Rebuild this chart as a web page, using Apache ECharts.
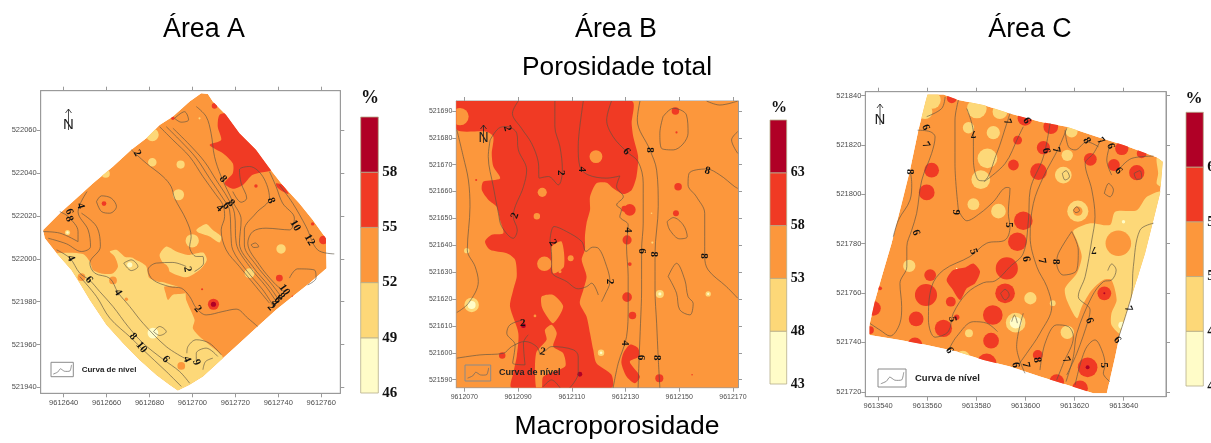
<!DOCTYPE html>
<html><head><meta charset="utf-8">
<style>html,body{margin:0;padding:0;background:#fff;overflow:hidden}#c{width:1211px;height:443px}canvas{filter:blur(0.4px)}</style>
<script src="https://cdn.jsdelivr.net/npm/echarts@6/dist/echarts.min.js"></script>
</head><body><div id="c"></div>
<script>
// ---------- value classes ----------
const PALE='#FFFCC8',YEL='#FDD878',ORG='#FC973C',RED='#F03A24',DARK='#B00026';
const bandColors=[PALE,YEL,ORG,RED,DARK];
const legendA=[46,49,52,55,58,61], legendB=[43,48,53,58,63,68], legendC=[43,48,53,58,63,68];
// ---------- axis tick labels ----------
const aXTicks=[9612640,9612660,9612680,9612700,9612720,9612740,9612760];
const aYTicks=[521940,521960,521980,522000,522020,522040,522060];
const bXTicks=[9612070,9612090,9612110,9612130,9612150,9612170];
const bYTicks=[521590,521600,521610,521620,521630,521640,521650,521660,521670,521680,521690];
const cXTicks=[9613540,9613560,9613580,9613600,9613620,9613640];
const cYTicks=[521720,521740,521760,521780,521800,521820,521840];
// map coordinates are stored as metres east / north of these origins
const aOrigin=[9612600,521900], bOrigin=[9612000,521500], cOrigin=[9613500,521700];

// ---------- ÁREA A ----------
const aField=[[104.1,177.3],[107.2,177],[109.5,173.4],[115.7,167.2],[121.9,158.6],[129.6,150.9],[135.9,142.3],[142,134.5],[149.8,126],[156,118.2],[162.2,109.6],[162.5,95.6],[154.5,88.6],[146.7,82.4],[139,76.2],[130.4,68.4],[121.9,60.6],[114.2,53.6],[104.9,45.1],[98.7,41.2],[93.2,38.5],[89.3,41.2],[83.2,45.8],[75.4,52.8],[67.7,60.6],[59.9,69.2],[52.2,80.8],[47.5,88.6],[43.6,94.8],[36.7,102.6],[31.2,109.6],[30.4,113.5],[38.2,121.3],[46,128.3],[53.7,135.3],[63,143.1],[71.5,150.9],[78.5,156.3],[84.7,162.5],[90.9,166.4],[98.7,173.4]];
const aYellowAreas=[
 [[36.7,102.6],[49,102.3],[52.2,98.7],[53.7,94.8],[58.4,93],[63,93.3],[65.3,96.4],[63.8,101],[61.5,103.4],[64.6,104.2],[68.4,101],[71.5,100.3],[75.4,98.7],[78.5,96.4],[80,91],[87.8,88.6],[96.3,85.5],[97.1,80.8],[101,71.5],[100.2,67.6],[103.3,63.7],[107.9,59.8],[114.2,53.6],[104,38],[40,38],[28,100]],
 [[84.7,101.8],[87.8,105.7],[92.5,103.4],[97.9,101.8],[104.9,102.9],[106.7,99.5],[103.3,94.8],[97.1,91.4],[89.4,94],[86.3,98]],
 [[101.8,113.5],[106.4,116.3],[109.5,113.5],[113.4,110.4],[112.6,107.6],[108,110.4],[103.3,112]]];
const aYellowSpots=[[99.9,108.4,3.1],[81.3,145.1,2],[94.5,144,1.9],[93.5,129.9,2.6],[141.3,104.6,2.2],[126.6,93.3,2.3],[81.3,157.9,3],[59.6,139.7,1.9],[41.8,112.3,1.2],[96.3,73,1.5],[70.8,97.2,3.5],[103.3,165.6,.5]];
const aPaleSpots=[[81.6,65.3,2.5],[70.8,97.2,1.2],[41.8,112.3,.6]];
const aOrangeAreas=[[[87,87.1],[96.3,86.3],[97.1,84],[90.9,83.2],[88.6,80.8],[87.5,84]]];
const aOrangeSpots=[[84.7,93.8,4.6],[94.8,50,1.8],[63,89.9,1.8],[48.3,91.4,1.8],[69.2,81.1,.8]];
const aRedAreas=[
 [[112.6,167.2],[117.3,168],[125,160],[135,150],[138,142],[128.1,139.2],[123.5,134.5],[118.8,132.7],[114.9,135.3],[118.8,140],[118.8,144.6],[114.2,149.3],[108,153.2],[113.4,155.5],[111.8,161.7]],
 [[139,135.3],[142,134.5],[144.8,130.3],[141.3,131.9],[139.3,133.7]]];
const aRedSpots=[[110.3,171.4,1.3],[90.9,165.6,.8],[140.5,91,1.6],[129.6,134,.8],[156,116.3,.8],[161,108.8,2],[58.8,125.8,1.1],[104.5,85.8,.5],[146.7,82.4,.5],[109.8,78.8,2.6]];
const aDarkSpots=[[109.8,78.8,1.2]];
const aContours=[
 [[71.5,150.9],[78.5,144.6],[86.3,138.4],[90.1,133.7],[91.7,128.3],[97.1,118.2],[99.4,110.4],[98.7,105.7],[101.8,101.1],[104.9,101.1],[105.2,98],[101,94.1]],
 [[97.1,96.4],[90.9,98.3],[83.2,98],[79.3,94.8],[81.6,90.2],[89.4,87],[94.8,86.3],[98.7,82.4],[101.8,77],[106.4,73.8],[114.2,75.4],[120.4,76.5],[125.8,72.3],[130.4,68.4]],
 [[84.7,161.7],[90.9,155.5],[98.7,147.7],[104.9,138.4],[111,129.9],[114.2,125.2],[115,119.7],[113.4,113.5],[115.7,104.2],[121.9,96.4],[129.6,87],[135.9,79.3]],
 [[87.8,161.7],[94.8,154.7],[101.8,147],[108,137.6],[114.2,128.3],[117.3,122.8],[118,110.4],[118.8,104.2],[125,94.8],[132.8,85.5],[137.4,78.5]],
 [[90.9,161],[98.7,153.2],[105.6,145.4],[111,136.9],[116.5,128.3],[119.6,121.3],[120.4,107.3],[126.6,96.4],[134.3,87],[139,80.1]],
 [[101.8,171.1],[106.4,166.4],[108.7,158.6],[110.3,147.7],[113.4,138.4],[118.8,126.7],[122.7,118.2],[121.9,107.3],[128.1,96.4],[135.9,87],[140.2,80.8]],
 [[118.8,131.4],[122.7,126.4],[125.3,128.3],[122.7,135.3],[121.9,141.5],[126.6,143.1],[132.8,138.4],[135.9,128.3],[129.6,121.3],[124.2,113.5],[124.2,106.5],[129.6,97.2],[136.6,88.6],[141.3,82.4]],
 [[135.9,140.7],[139,133.7],[142,126],[147.5,119],[145.2,113.5],[134.3,114.3],[128.1,112.7],[125.8,107.3],[131.2,97.2],[138.2,88.6],[142.8,84.7]],
 [[140.5,134.5],[146.7,126],[152.9,115.1],[158.3,104.2],[166.1,102.3]],
 [[145.2,91],[149,95.3],[156.8,94.8],[157.6,91],[153.7,87.8]],
 [[55.3,126.7],[57.6,129.4],[62.2,128.3],[64.6,124.4],[61.5,121.3],[57.6,122.1],[55.3,126.7]],
 [[91.7,165.6],[96.3,168.7],[98.2,164.9],[94.8,163.8],[91.7,165.6]],
 [[127.3,106.5],[129.3,107.4],[130.9,105.7],[128.6,105.3],[127.3,106.5]],
 [[68,98],[71.5,99.5],[74.6,96.4],[71.5,94.5],[68,98]],
 [[81.9,66],[84.7,68.4],[87.8,66],[84.7,64.2],[81.9,66]],
 [[30.4,112.7],[38.2,112],[46.7,108],[46.7,112.7],[42.1,119.7],[38.2,122]],
 [[32.8,109.6],[41.3,107],[48.3,103.4],[52.5,105.7],[51.4,113.5],[46.7,122],[50.9,131.4]],
 [[48.3,121.3],[55.3,115.1],[57.1,105.7],[52.2,98],[54.5,93.3],[61.5,90.9],[65.3,84.3],[70.8,77.7],[77,69.9],[87.8,59],[96.3,53.6]],
 [[36.7,104.2],[42.9,100.3],[47.5,93.3],[52.2,89.9],[56.8,84.7],[63,77.7],[70,68.4],[77,60.6],[86.3,53.1],[94,47.4],[98.7,41.9]],
 [[47.5,91.7],[55.3,82.4],[61.5,72.3],[71.5,63],[77,57.5],[87.8,47.4],[94.8,40.4]],
 [[97.4,55.9],[97.9,59],[101.8,62.2],[107.9,60.6],[113.4,55.2]],
 [[101.8,52.1],[101.8,55.9],[106.4,58.3],[111.8,54.4]],
 [[104.9,48.2],[106.1,52],[109.5,53.6]]];
const aLabels=[['2',74.2,149.3,-60],['4',47.8,124.7,-75],['6',42.5,122,-70],['8',42.5,118.6,-70],['4',43.3,100.3,-65],['6',51.8,90.2,-50],['4',65.3,84.3,-60],['2',97.6,95.2,-80],['2',102.5,76.5,-50],['8',72.3,63.7,-50],['10',76.2,58.6,-50],['6',87.5,53.1,-50],['4',97.4,53.1,-70],['9',101.8,51.6,-70],['8',114.2,137.2,-50],['8',118,126,-45],['6',115.7,124.7,-45],['4',112.6,123.6,-45],['8',136.6,127.2,-70],['10',147.9,115.5,-60],['12',154.5,108.8,-60],['10',142.8,85.5,-55],['8',141.3,82.4,-50],['6',139.7,80.8,-50],['4',138.2,79.3,-50],['2',136.6,77.4,-50]];

// ---------- ÁREA B ----------
const bField=[[67,87],[171.9,87],[171.9,193.7],[67,193.7]];
const bYellowSpots=[[72.7,117.8,2.7],[70.9,138,1],[120.9,100,1.2],[142.8,121.9,1.5],[160.8,121.9,1],[139.7,151.9,.3],[140,141,.4]];
const bPaleSpots=[[72.7,117.8,1.5],[142.8,121.9,.6],[160.8,121.9,.4],[120.9,100,.5]];
const bRedAreas=[
 [[67.2,193.7],[132.3,193.7],[132.3,185.4],[132.9,180.4],[134.7,173],[134.1,165.6],[132.3,160.6],[129.2,159.1],[125.4,161.2],[123,163.3],[119.2,163.1],[116.8,158.1],[116.8,153.2],[115.5,148.2],[114.9,143.2],[114.9,138.3],[113.7,134.6],[115.5,128.4],[114.3,123.4],[113,118.4],[115.5,113.5],[116.8,107.3],[118,101.1],[119.2,96.1],[124.8,91.8],[124.8,87],[87.6,87],[88.2,92.4],[89.5,98.6],[90.1,107.3],[87,117.2],[88.2,123.4],[89.5,128.4],[88.9,134.6],[85.8,137],[79.6,138.3],[77.7,141.4],[80.2,143.9],[84.5,144.5],[83.3,149.4],[82,154.4],[79,156.9],[76.5,160.6],[77.1,163.7],[83.3,164.9],[80.8,169.3],[80.2,174.2],[80.8,180.4],[78.3,182.3],[67.2,183]],
 [[129.2,99.8],[131.6,103],[134.7,101.7],[135.1,98.6],[131.6,96.7],[135.4,91.2],[133.5,88.7],[130.4,91.2],[128.5,96.1]]];
const bOrangeAreas=[
 [[98.8,120.9],[103.1,121.5],[106.8,117.2],[103.1,111],[100,114.7],[98.8,117.2]],
 [[96.7,87],[96.7,99.8],[100.6,104.8],[100,108.5],[102.5,110.4],[104.4,107.3],[103.1,102.3],[106.8,99.8],[107.5,94.9],[99.4,91.2],[98.8,87]],
 [[102.5,139.5],[106.2,141.4],[107.1,132.1],[103.1,129.6],[102.5,135.8]]];
const bOrangeSpots=[[99.8,133.1,2.7],[99,159.7,1.7],[97,150.8,1.2],[109.6,135.2,1.1],[68.4,187.9,3.2],[119,173,2.4],[96.3,113.7,.5],[105.6,130.2,.6]];
const bRedSpots=[[130.6,142,1.7],[131.6,153.2,2.2],[129.6,153.6,1.1],[149.6,161.8,1.4],[148.8,151.9,1.1],[148.6,190,1.4],[149,182,.4],[131.6,133,.7],[130.6,120.7,1.8],[132.6,113.9,1.4],[142.6,90.5,1.5],[84.1,99,1.2],[74.4,164.3,.4],[154.8,91.8,.3],[92,111,2.4]];
const bDarkSpots=[[92,110.1,.9],[113,92,.9]];
const bContours=[
 [[67.2,183],[69.6,173],[71.5,164.3],[72.1,154.4],[71.1,138.3],[74,132.1],[75.2,126.5],[71.5,118.4],[67.2,115]],
 [[79.6,179.2],[78.9,173],[80.8,161.8],[82.7,151.9],[83.9,147],[88.2,142.6],[89.7,145.7],[88.2,150.7],[92,161.8],[93.2,168],[90.1,175.5],[89.5,181.7],[85.8,184.2],[82.7,183.5],[79.6,179.2]],
 [[90.1,193.7],[87.9,189.1],[91.3,183.5],[95,178],[97.5,171.1],[97.9,165],[101.3,165.6],[105,162.5],[106.5,168],[105.6,176.7],[103.7,184.2],[103.7,193.7]],
 [[114.3,193.7],[113,184.2],[112.4,176.7],[113,169.3],[116.1,166.2],[123,165],[127.9,165.8],[126.7,161.8],[129.2,158.1],[126.7,155],[128.5,153.2],[127.9,150.7],[131,147.6],[130.4,139.5],[131,128.4],[131,117.2],[130.4,106],[127.3,96.1],[125.4,87]],
 [[124.8,193.7],[123,186.6],[125.4,180.4],[130.4,174.9],[134.7,171.1],[136.6,163.1],[136.6,148.2],[136,138.3],[136,123.4],[135.6,111],[135.1,98.6],[134.7,87]],
 [[135.4,193.7],[134.4,186.6],[139.1,175.5],[141.6,168],[142.2,154.4],[141,137],[141,123.4],[141.6,111],[142.2,98],[142.8,87]],
 [[171.8,161.2],[170.7,161.8],[165.1,166.2],[160.2,168.4],[153.7,166.8],[153.3,162.5],[156.4,158.1],[159.5,151.9],[159.5,143.2],[159.5,135.8],[160.8,130.8],[167.6,124.6],[171.8,120.3]],
 [[144,187.9],[147.8,191],[152.7,188.5],[153.3,181.7],[147.8,175.5],[143.4,176.1],[142.8,181.7],[144,187.9]],
 [[145.5,148.8],[147.8,150.3],[151.5,147.6],[153,143.2],[150.2,142.4],[146.5,145.7],[145.5,148.8]],
 [[145.9,128.4],[149,133.3],[152.1,127.1],[153.3,120.9],[155.2,118.4],[154,114.1],[150.2,116],[149,122.2],[145.9,128.4]],
 [[160.2,193.7],[165.1,192.2],[171.8,193.7]],
 [[171.8,182.3],[169.5,179.2],[171.8,174.2]],
 [[101.9,142],[103.4,147],[108.1,145.1],[113.7,141.4],[115.3,137.7],[117.8,139.3],[119.9,138.9],[123,132.1],[124.2,126.5],[122.3,121.5],[121.1,119]],
 [[101.9,142],[102.5,135.8],[102.5,130.2],[108.1,126.5],[112.4,123.8],[115.5,124.6],[117.4,125.9],[119.9,121.5]],
 [[67.2,98],[75.8,99.2],[84.5,99.8],[87.6,102.3],[92.6,104.2],[96.9,102.3],[98.2,99.2]],
 [[91.7,112.2],[87,110.4],[85.8,107.3],[88.9,102.9],[88,96.1],[92.6,95.5],[92,103.6],[93.8,106.7]],
 [[99.4,87.4],[102.5,89.9],[105.6,87]],
 [[100,100.5],[102.5,102.3],[110.6,101.1],[112.4,98.6],[112.4,92.4],[109.3,87]]];
const bLabels=[['2',86,183.5,-75],['2',88.9,151,70],['2',105.8,167,-90],['4',113.8,168.3,-90],['6',130.4,174.9,-50],['8',139.1,175.5,-90],['8',160.5,167.7,-15],['2',102.9,141,-60],['4',130.7,145.7,-90],['6',136.2,137.9,-90],['8',140.6,136.7,-90],['8',159.3,136,-90],['2',124,126.5,-90],['2',91.7,111.2,0],['2',99.2,100.3,-10],['4',129.8,103.6,-90],['6',135.6,98.2,-90],['8',141.8,98.1,-90]];

// ---------- ÁREA C ----------
const cField=[[60.1,140.5],[66.6,140.5],[72.7,138.2],[82.9,136.2],[93.7,132.8],[105.9,129.4],[116.8,127.4],[129,123.3],[139.9,120],[153.4,115],[155.9,113.2],[154.8,100.4],[152.1,89.6],[148.7,76.1],[145.3,65.3],[141.9,54.5],[138.5,43.7],[136.5,34.2],[133.1,19.4],[127.6,19.4],[116.8,22.8],[105.9,26.2],[93.7,30.2],[82.9,32.9],[72,36.3],[59.8,39],[48.9,41],[36.5,43],[36.5,47.1],[38.8,57.2],[41.5,66.6],[45.5,80.2],[49.6,96.3],[53,109.9],[56.4,126],[59.1,136.8]];
const cYellowAreas=[
 [[119.5,85.3],[126.3,88.3],[134.4,87.6],[136.5,93],[145.3,93.6],[149.4,99],[156.1,101],[152.1,74.8],[148,59.9],[142.6,46.4],[139.2,43],[135,47.1],[135,51.8],[137.1,57.2],[135,65.3],[131.7,65.3],[127,61.2],[122.9,54.5],[120.9,49.8],[116.8,57.2],[116.1,61.9],[120.9,68],[122.9,74.8],[120.9,81.5]],
 [[153.4,114.6],[156.1,113.9],[155.4,103.1],[153.4,104.4],[154,108.5]]];
const cYellowSpots=[[62,138.2,3.5],[59.1,133.5,3],[80.2,134.8,4],[89.6,133.5,3],[76.8,127,2.3],[86.9,125,2.7],[118.8,125.4,2.4],[84.5,114.6,4],[81.8,106,3.8],[117,115.8,2.3],[115.4,107.8,3.4],[78.8,96,2.4],[89,93.2,3],[121.3,93.2,4.3],[52.7,71,2.5],[102,57.9,2.5],[96,48,4],[77,43.7,1.6],[74.5,33.6,3],[117,44.1,2.7],[111.1,55.9,1.2],[145,66.7,1.4]];
const cPaleSpots=[[96,48,2.4],[139.9,88.9,.7],[139.2,47,1.4],[75.6,68.2,.3],[72,70,.3]];
const cOrangeSpots=[[137.8,80.2,5.2],[121.3,93.2,1.9]];
const cRedAreas=[[[67.9,65.3],[70.6,69.3],[75.4,70.4],[78.8,72],[81.5,68.7],[79.5,64],[76.1,61.9],[73.4,57.2],[70,61.9]]];
const cRedSpots=[[70,138.9,2],[99.8,130.8,3],[110.3,127.4,3],[96.8,122,1.8],[107.3,118.9,2.7],[126.4,114.2,2.6],[139.2,118.6,2.7],[147.3,116.6,2],[136,111.9,2.4],[145.3,108.8,3.1],[61.8,109.8,3],[59.8,100.8,3.2],[95.1,111.9,2.2],[105.3,109.2,3.4],[99.1,89.3,3.8],[96.7,80.8,3.8],[92.4,70,4.5],[61.2,67.3,2.4],[91.7,59.9,4],[59.5,59.2,4.5],[86.7,51.1,4],[55.5,49.5,3],[66.6,45.7,3.5],[86,40.7,3.2],[55,39,3],[84.2,31.5,4],[105,34.9,2],[125.3,29.9,4],[112.7,24.1,3],[122.2,21.4,3.2],[38.1,53.8,3],[36.7,45,1.6],[40.8,61.9,.8],[72,50.2,1.1],[69.6,56.5,2],[132.1,59.9,2.8]];
const cDarkSpots=[[125.3,29.9,.8],[132.1,59.9,.4]];
const cContours=[
 [[56.1,126],[61.2,125.4],[63.2,123.3],[61.8,116.6],[57.8,105.8],[55.7,92.3],[53.7,85.5],[51.7,78.8],[51.7,70.7],[48.9,63.9],[49.6,54.5],[48.9,47.8],[44.9,42.6],[40.8,45],[36.7,47.7]],
 [[53,109.9],[53.7,104.4],[53,97.7],[48.3,89.6],[46.2,82.8]],
 [[67.3,139.5],[65.9,134.8],[59.8,131.5]],
 [[72.7,138.2],[71.3,130.1],[71.3,112.5],[72.7,93.6]],
 [[72.7,93.6],[76.1,89.3],[81.5,92.3],[86.9,97],[92.4,102.8],[93.7,102.4],[93,92.3],[93.7,86.9],[91.7,81.5],[84.2,80.2],[77.4,74.8],[66.6,69.3],[61.8,62.6],[60.5,49.1],[63.2,42.1],[68.6,44.4],[70.6,51.8],[76.1,59.9],[82.9,64.2],[87.6,64.9],[93.7,70.7],[99.1,76.1],[101.2,89.6],[101.9,101.7],[107.3,115.2],[110,128.8]],
 [[76.1,134.8],[78.8,124.7],[78.8,113.9],[80.8,105.8],[82.9,105.5],[88.3,116.6],[92.4,128.8],[93.7,132.8]],
 [[99.1,127.4],[97.1,123.3],[91.7,112.5],[83.1,105.1]],
 [[116.8,126.7],[113.4,118.6],[107.3,107.1],[103.2,96.3],[101.9,82.8],[104.6,70.7],[108.7,62.6],[110.7,54.5],[105.9,43.7],[100.5,35.6],[97.1,30.9]],
 [[116.1,126],[117.5,119.3],[120.2,118],[125,121.3],[129.7,119.3]],
 [[130.6,122],[127.7,116.6],[124.3,112.5],[127,101.8],[128.3,91],[127,81.5],[124.3,66.7],[121.5,58.6],[126.3,53.2],[125.6,49.1],[120.9,35.6],[116.8,26.8]],
 [[134.4,120],[133.1,113.9],[135.1,107.8]],
 [[137.8,109.9],[143.3,114.6],[152.1,115.5]],
 [[118.8,84.9],[113.4,76.1],[112.7,72],[115.4,67.3],[120.9,69.3],[121.5,77.4],[118.8,84.9]],
 [[152.1,88.3],[146.6,85.5],[143.9,70.7],[143.3,59.9],[141.9,54.5],[137.8,41.7]],
 [[133.5,69.1],[135.1,71.8],[136.9,69.3],[135.1,65.3],[131.7,64.6],[127,58.5],[120.9,43.7],[119.5,34.2],[116.5,24.1]],
 [[120.2,22.8],[124.3,37],[128.3,41],[131,37],[132.4,30.9],[131.7,27.5],[134.4,24.1]],
 [[68.6,36.7],[72,42.4],[78.8,48.4],[84.2,47.8],[88.6,44.4]],
 [[105.9,28.8],[108,39.7],[112.7,47.1],[117.5,46.4],[119.5,42.3],[115.4,31.5],[112.7,24.8]],
 [[99.8,27.5],[96.4,38.3],[99.1,51.8]],
 [[115,108.5],[116.5,109.6],[117.9,107.1],[116.1,105.8],[115,108.5]],
 [[119.5,93.6],[120.9,95],[122,93.4],[120.5,92.6],[119.5,93.6]],
 [[89.9,59.9],[91.7,61.5],[93.4,59.2],[91.7,57.2],[89.9,59.9]],
 [[94.4,48.4],[95.5,51.1],[96.7,47.8]],
 [[144.2,108.5],[146.6,109.6],[147.3,106.5],[145.3,106.1],[144.2,108.5]],
 [[132.1,100.4],[133.8,104.4],[135.8,101.8],[134.4,99],[132.1,100.4]]];
const cLabels=[['6',59.4,127.1,-70],['7',59.4,120,-60],['8',53,109.2,-90],['6',55.4,84.5,-70],['9',71.6,92.7,-90],['7',78.8,124.7,180],['7',92.6,129.4,-70],['6',100.5,129.8,-60],['6',108.4,117.7,-80],['7',112.4,118,-80],['8',124.9,121.7,-60],['7',130.6,121.6,-50],['6',134.7,119.6,-70],['6',137.8,109.6,-50],['5',93.4,87.6,-90],['5',78.8,76.8,-70],['6',100.2,73.8,-80],['7',106.6,73,-80],['8',112.4,72.7,-90],['7',127.9,77.7,180],['7',141.9,53.6,-70],['6',126,48.8,-70],['5',70.2,49.4,-80],['6',69,36.7,-60],['6',137.3,41,-50],['6',96,30.9,-80],['7',100.1,30.9,-80],['8',104.7,32.9,-80],['7',116.5,32.9,-60],['5',132.1,30.7,-90]];

// ---------- build ----------
const FS='"Liberation Sans",Arial,sans-serif', FT='"Liberation Serif","Times New Roman",serif';
const panels=[
 {origin:aOrigin,rect:[40.7,90.7,299.6,302.6],x:[9612629.3,9612768.9],y:[521937.2,522078.5],xT:aXTicks,yT:aYTicks,field:aField,fill:ORG,font:7.5,
  layers:[[aYellowAreas,null,YEL],[aOrangeAreas,null,ORG],[null,aYellowSpots,YEL],[null,aOrangeSpots,ORG],[null,aPaleSpots,PALE],[aRedAreas,aRedSpots,RED],[null,aDarkSpots,DARK]],contours:aContours,labels:aLabels},
 {origin:bOrigin,rect:[456.3,101,281.7,286.7],x:[9612067,9612171.9],y:[521587,521693.7],xT:bXTicks,yT:bYTicks,field:bField,fill:ORG,font:7,
  layers:[[bRedAreas,null,RED],[bOrangeAreas,bOrangeSpots,ORG],[null,bYellowSpots,YEL],[null,bPaleSpots,PALE],[null,bRedSpots,RED],[null,bDarkSpots,DARK]],contours:bContours,labels:bLabels},
 {origin:cOrigin,rect:[865.3,91.7,300.7,305],x:[9613534.8,9613657.2],y:[521718,521841.6],xT:cXTicks,yT:cYTicks,field:cField,fill:ORG,font:7.5,
  layers:[[cYellowAreas,null,YEL],[null,cYellowSpots,YEL],[null,cOrangeSpots,ORG],[null,cPaleSpots,PALE],[cRedAreas,cRedSpots,RED],[null,cDarkSpots,DARK]],contours:cContours,labels:cLabels}
];
const legends=[
 {vals:legendA,rect:[360.7,117,17.6,276],font:15},
 {vals:legendB,rect:[770,120,16.7,264],font:14},
 {vals:legendC,rect:[1186,112.3,17.3,273.7],font:15}
];
const grid=[],xAxis=[],yAxis=[],series=[];
const axisColor='#9a9a9a';
panels.forEach((p,i)=>{
 const [l,t,w,h]=p.rect;
 grid.push({left:l,top:t,width:w,height:h,show:true,outerBoundsMode:'none',backgroundColor:'#fff',borderColor:axisColor,borderWidth:1});
 const lab={color:'#4d4d4d',fontFamily:FS,fontSize:p.font};
 const ln={show:true,onZero:false,lineStyle:{color:axisColor,width:1}};
 const tk=(v)=>({show:true,length:4,customValues:v,lineStyle:{color:axisColor,width:1}});
 xAxis.push({type:'value',gridIndex:i,position:'bottom',min:p.x[0],max:p.x[1],splitLine:{show:false},axisLine:ln,axisTick:tk(p.xT),axisLabel:{...lab,margin:5.5,customValues:p.xT,formatter:v=>String(v)}});
 xAxis.push({type:'value',gridIndex:i,position:'top',min:p.x[0],max:p.x[1],splitLine:{show:false},axisLine:ln,axisTick:tk(p.xT),axisLabel:{show:false}});
 yAxis.push({type:'value',gridIndex:i,position:'left',min:p.y[0],max:p.y[1],splitLine:{show:false},axisLine:ln,axisTick:tk(p.yT),axisLabel:{...lab,margin:4,customValues:p.yT,formatter:v=>String(v)}});
 yAxis.push({type:'value',gridIndex:i,position:'right',min:p.y[0],max:p.y[1],splitLine:{show:false},axisLine:ln,axisTick:tk(p.yT),axisLabel:{show:false}});
 const ax={xAxisIndex:i*2,yAxisIndex:i*2};
 const abs=q=>[p.origin[0]+q[0],p.origin[1]+q[1]];
 // flat list of the filled layers, painted in order
 const items=[{poly:p.field,color:p.fill}];
 p.layers.forEach(([areas,spots,color])=>{
  (areas||[]).forEach(a=>items.push({poly:a,color}));
  (spots||[]).forEach(s=>items.push({spot:s,color}));
 });
 series.push({type:'custom',...ax,coordinateSystem:'cartesian2d',silent:true,animation:false,clip:true,z:2,
  data:items.map((_,k)=>[k]),
  renderItem(params,api){
   const it=items[params.dataIndex];
   const clip={type:'polygon',shape:{points:p.field.map(q=>api.coord(abs(q)))}};
   if(it.poly) return {type:'polygon',clipPath:clip,shape:{points:it.poly.map(q=>api.coord(abs(q))),smooth:it.poly===p.field?0:0.25},style:{fill:it.color,stroke:null}};
   const c=api.coord(abs(it.spot));
   return {type:'circle',clipPath:clip,shape:{cx:c[0],cy:c[1],r:api.size([it.spot[2],0])[0]},style:{fill:it.color,stroke:null}};
  }});
 p.contours.forEach(cn=>series.push({type:'line',...ax,data:cn.map(abs),smooth:0.35,showSymbol:false,silent:true,animation:false,z:3,lineStyle:{color:'#5a5242',width:0.75,opacity:0.85}}));
 series.push({type:'custom',...ax,coordinateSystem:'cartesian2d',silent:true,animation:false,z:4,
  data:p.labels.map((_,k)=>[k]),
  renderItem(params,api){
   const L=p.labels[params.dataIndex], c=api.coord(abs([L[1],L[2]]));
   return {type:'text',x:c[0],y:c[1],rotation:L[3]*Math.PI/180,style:{text:L[0],font:'bold 11px '+FT,fill:'#111',textAlign:'center',textVerticalAlign:'middle'}};
  }});
});
legends.forEach((g,i)=>{
 const gi=panels.length+i, [l,t,w,h]=g.rect, v=g.vals;
 grid.push({left:l,top:t,width:w,height:h,show:false,outerBoundsMode:'none'});
 xAxis.push({type:'value',gridIndex:gi,min:0,max:1,show:false});
 yAxis.push({type:'value',gridIndex:gi,position:'right',min:v[0],max:v[v.length-1],splitLine:{show:false},axisLine:{show:false},axisTick:{show:false},
  axisLabel:{customValues:v.slice(0,-1),color:'#111',fontFamily:FT,fontWeight:'bold',fontSize:g.font,margin:4,formatter:x=>String(x)}});
 series.push({type:'custom',xAxisIndex:panels.length*2+i,yAxisIndex:panels.length*2+i,coordinateSystem:'cartesian2d',silent:true,animation:false,
  data:v.slice(0,-1).map((_,k)=>[k]),
  renderItem(params,api){
   const k=params.dataIndex, a=api.coord([0,v[k]]), b=api.coord([1,v[k+1]]);
   return {type:'rect',shape:{x:a[0],y:b[1],width:b[0]-a[0],height:a[1]-b[1]},style:{fill:bandColors[k],stroke:'#b5ad8a',lineWidth:0.8}};
  }});
});
// titles
const titles=[['Área A',204,32,26.8],['Área B',616,32,26.8],['Área C',1030,32,26.8],['Porosidade total',617,70,26.3],['Macroporosidade',617,429,26.5]];
const title=titles.map(([text,x,y,s])=>({text,left:x,top:y-s*0.58,textAlign:'center',padding:0,textStyle:{fontFamily:FS,fontWeight:'normal',fontSize:s,color:'#000'}}));
// north arrows, contour key, % captions
const graphic=[];
[[68.5,109,130,15],[483.5,125,143,14],[880,104,125,15]].forEach(([x,y0,y1,s])=>{
 graphic.push({type:'polyline',z:10,shape:{points:[[x,y1],[x,y0]]},style:{stroke:'#222',lineWidth:0.8,fill:null}});
 graphic.push({type:'polyline',z:10,shape:{points:[[x-3,y0+4],[x,y0],[x+3,y0+4]]},style:{stroke:'#222',lineWidth:0.8,fill:null}});
 graphic.push({type:'text',z:10,x:x,y:y1-5,style:{text:'N',font:s+'px '+FS,fill:'#222',textAlign:'center',textVerticalAlign:'middle'}});
});
[[51,362.3,22.3,14.4,81.7,8],[465,365,25.7,16,499,9],[878,369,28,18,915,9.5]].forEach(([x,y,w,h,tx,fs])=>{
 graphic.push({type:'rect',z:10,shape:{x,y,width:w,height:h},style:{fill:'#fff',fillOpacity:0,stroke:'#8a8a8a',lineWidth:1}});
 graphic.push({type:'polyline',z:10,shape:{smooth:0.2,points:[[x+w*.1,y+h*.82],[x+w*.3,y+h*.68],[x+w*.42,y+h*.45],[x+w*.6,y+h*.62],[x+w*.85,y+h*.6],[x+w*.92,y+h*.18]]},style:{stroke:'#666',lineWidth:0.7,fill:null}});
 graphic.push({type:'text',z:10,x:tx,y:y+h/2,style:{text:'Curva de nível',font:'bold '+fs+'px '+FS,fill:'#222',textVerticalAlign:'middle'}});
});
[[370,98,18],[779,108,16],[1194,99,17]].forEach(([x,y,s])=>{
 graphic.push({type:'text',z:10,x,y,style:{text:'%',font:'bold '+s+'px '+FT,fill:'#111',textAlign:'center',textVerticalAlign:'middle'}});
});
const chart=echarts.init(document.getElementById('c'),null,{renderer:'canvas',width:1211,height:443});
chart.setOption({animation:false,backgroundColor:'#fff',title,grid,xAxis,yAxis,series,graphic});
</script></body></html>
